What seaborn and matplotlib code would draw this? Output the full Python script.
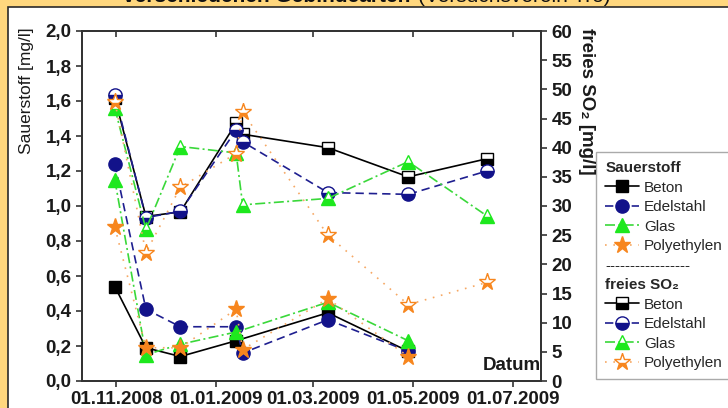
import pandas as pd
import matplotlib
matplotlib.use("Agg")
import matplotlib.pyplot as plt
import matplotlib.dates as mdates
from matplotlib.lines import Line2D
from matplotlib.patches import Rectangle
from matplotlib.ticker import FuncFormatter, MultipleLocator
import seaborn as sns

materials = ["Beton", "Edelstahl", "Glas", "Polyethylen"]

o2_dates_beton = ["2008-10-31", "2008-11-19", "2008-12-10", "2009-01-13", "2009-03-10", "2009-04-28"]
o2_beton = [0.54, 0.19, 0.14, 0.23, 0.39, 0.17]
o2_dates_edel = ["2008-10-31", "2008-11-19", "2008-12-10", "2009-01-13", "2009-01-17", "2009-03-10", "2009-04-28"]
o2_edel = [1.24, 0.41, 0.31, 0.31, 0.16, 0.35, 0.17]
o2_dates_glas = ["2008-10-31", "2008-11-19", "2008-12-10", "2009-01-13", "2009-03-10", "2009-04-28"]
o2_glas = [1.15, 0.15, 0.21, 0.28, 0.45, 0.23]
o2_dates_pe = ["2008-10-31", "2008-11-19", "2008-12-10", "2009-01-13", "2009-01-17", "2009-03-10", "2009-04-28"]
o2_pe = [0.88, 0.19, 0.19, 0.41, 0.18, 0.47, 0.14]

so2_dates = ["2008-10-31", "2008-11-19", "2008-12-10", "2009-01-13", "2009-01-17", "2009-03-10", "2009-04-28", "2009-06-15"]
so2_beton = [48.5, 28.2, 29.0, 44.2, 42.3, 40.0, 35.0, 38.1]
so2_edel = [49.0, 28.0, 29.1, 43.0, 41.0, 32.3, 32.0, 36.0]
so2_glas = [46.8, 26.0, 40.2, 39.1, 30.2, 31.3, 37.6, 28.3]
so2_pe = [47.9, 22.0, 33.2, 39.0, 46.1, 25.0, 13.1, 16.9]

x_ticks = ["2008-11-01", "2009-01-01", "2009-03-01", "2009-05-01", "2009-07-01"]

styles = {
    "Beton": dict(color="black", line="black", marker="s", ms=8, ls="-"),
    "Edelstahl": dict(color="#12128a", line="#1f1f90", marker="o", ms=9.5, ls=(0, (5, 3))),
    "Glas": dict(color="#1ee81e", line="#3ad83a", marker="^", ms=9.5, ls=(0, (6, 2, 1.2, 2))),
    "Polyethylen": dict(color="#f7861e", line="#f6a864", marker="*", ms=12.5, ls=(0, (1, 4))),
}


def draw_series(ax, dates, values, name, half=False):
    st = styles[name]
    extra = dict(fillstyle="bottom", markerfacecoloralt="white") if half else {}
    sns.lineplot(x=pd.to_datetime(dates), y=values, ax=ax, errorbar=None,
                 color=st["line"], linestyle=st["ls"], linewidth=1.2,
                 marker=st["marker"], markersize=st["ms"],
                 markerfacecolor=st["color"], markeredgecolor=st["color"],
                 markeredgewidth=1.0, **extra)


def legend_handle(name, half=False):
    st = styles[name]
    extra = dict(fillstyle="bottom", markerfacecoloralt="white") if half else {}
    return Line2D([], [], color=st["line"], linestyle=st["ls"], linewidth=1.2,
                  marker=st["marker"], markersize=st["ms"],
                  markerfacecolor=st["color"], markeredgecolor=st["color"],
                  markeredgewidth=1.0, **extra)


sns.set_style("ticks")
plt.rcParams["font.family"] = ["Liberation Sans", "DejaVu Sans"]

W, H = 728, 408
fig = plt.figure(figsize=(W / 100, H / 100), dpi=100)
fig.patch.set_facecolor("#ffd77e")
fig.patches.append(Rectangle((8 / W, -0.02), 1.0, 1 - 7 / H + 0.02, transform=fig.transFigure,
                             facecolor="white", edgecolor="#2a2a2a", lw=1.2, zorder=-5))

fig.text(410 / W, 1 - 2.5 / H, "verschiedenen Gebindearten", ha="right", va="baseline",
         fontsize=15, fontweight="bold", color="#111111", zorder=-6)
fig.text(418 / W, 1 - 2.5 / H, "(Versuchsverein Tro)", ha="left", va="baseline",
         fontsize=15, color="#111111", zorder=-6)

ax = fig.add_axes([82 / W, 1 - 381 / H, (541 - 82) / W, 350 / H])
ax2 = ax.twinx()

draw_series(ax, o2_dates_beton, o2_beton, "Beton")
draw_series(ax, o2_dates_edel, o2_edel, "Edelstahl")
draw_series(ax, o2_dates_glas, o2_glas, "Glas")
draw_series(ax, o2_dates_pe, o2_pe, "Polyethylen")

draw_series(ax2, so2_dates, so2_beton, "Beton", half=True)
draw_series(ax2, so2_dates, so2_edel, "Edelstahl", half=True)
draw_series(ax2, so2_dates, so2_glas, "Glas", half=True)
draw_series(ax2, so2_dates, so2_pe, "Polyethylen", half=True)

ax.set_xlim(pd.Timestamp("2008-10-11"), pd.Timestamp("2009-07-18"))
ax.set_xticks(pd.to_datetime(x_ticks))
ax.xaxis.set_major_formatter(mdates.DateFormatter("%d.%m.%Y"))
ax.set_ylim(0, 2.0)
ax.yaxis.set_major_locator(MultipleLocator(0.2))
ax.yaxis.set_major_formatter(FuncFormatter(lambda v, _: f"{v:.1f}".replace(".", ",")))
ax2.set_ylim(0, 60)
ax2.yaxis.set_major_locator(MultipleLocator(5))

for a in (ax, ax2):
    for sp in a.spines.values():
        sp.set_visible(True)
        sp.set_color("#333333")
        sp.set_linewidth(1.3)
    a.set_xlabel("")
    a.set_ylabel("")

tick_font = dict(labelsize=13.5, colors="#333333", labelcolor="#1a1a1a", width=1.2, length=4)
ax.tick_params(axis="both", direction="out", pad=3.5, **tick_font)
ax2.tick_params(axis="y", direction="out", pad=3.5, **tick_font)
ax2.xaxis.set_visible(True)
ax2.tick_params(axis="x", bottom=False, top=True, labelbottom=False, labeltop=False,
                direction="in", length=4, width=1.2, colors="#333333")
for lab in ax.get_xticklabels() + ax.get_yticklabels() + ax2.get_yticklabels():
    lab.set_fontweight("bold")

fig.text(27 / W, 1 - 27 / H, "Sauerstoff [mg/l]", rotation=90, ha="center", va="top",
         fontsize=12.5, color="#1a1a1a")
fig.text(587 / W, 1 - 28 / H, "freies SO₂ [mg/l]", rotation=270, ha="center", va="top",
         fontsize=13.5, fontweight="bold", color="#1a1a1a")
ax.text(1.0, 0.02, "Datum", transform=ax.transAxes, ha="right", va="bottom",
        fontsize=13.5, fontweight="bold", color="#1a1a1a")

blank = Line2D([], [], linestyle="none")
handles = [blank] + [legend_handle(m) for m in materials] + [blank, blank] + \
          [legend_handle(m, half=True) for m in materials]
labels = ["Sauerstoff"] + materials + ["-" * 17, "freies SO₂"] + materials
leg = ax2.legend(handles, labels, loc="upper left", bbox_to_anchor=(596 / W, 1 - 152 / H),
                 bbox_transform=fig.transFigure, borderaxespad=0, fontsize=11,
                 frameon=True, fancybox=False, edgecolor="#aaaaaa", framealpha=1,
                 handlelength=2.2, handletextpad=0.35, labelspacing=0.36, borderpad=0.6)
leg.get_frame().set_linewidth(1.0)
header_rows = [0, 5, 6]
rows = leg._legend_handle_box.get_children()[0].get_children()
for i in header_rows:
    rows[i]._children = rows[i]._children[1:]
for i in (0, 6):
    leg.get_texts()[i].set_fontweight("bold")
leg.set_clip_on(False)

fig.savefig("out.png", dpi=100, facecolor=fig.get_facecolor())
